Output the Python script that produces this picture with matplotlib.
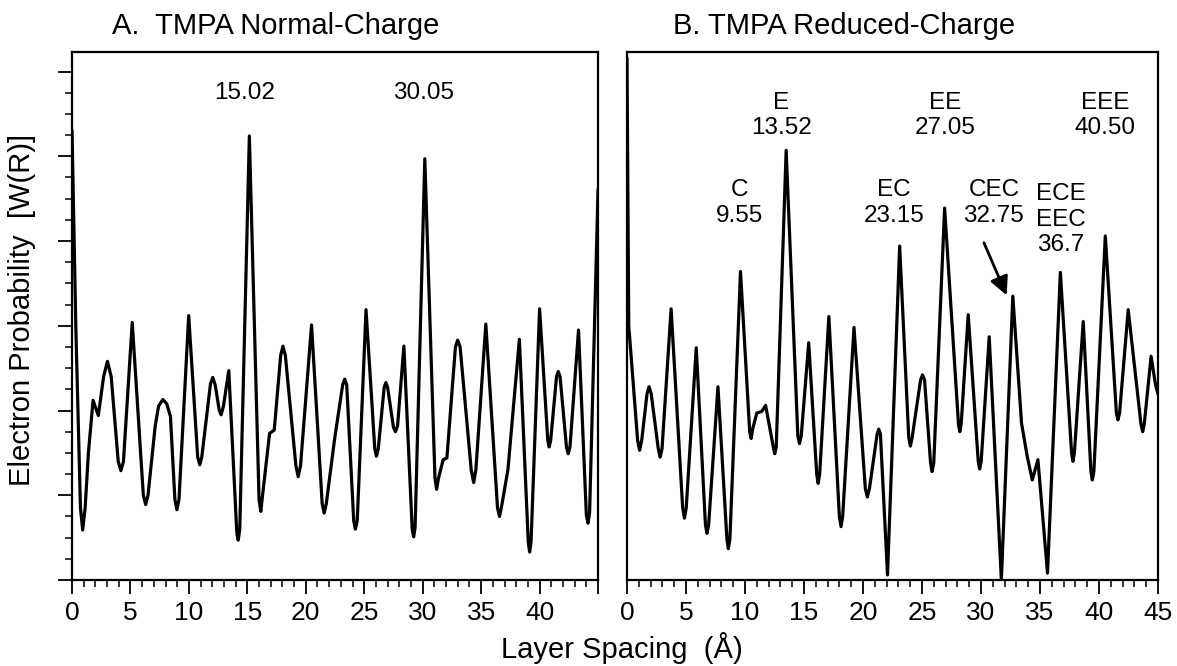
import numpy as np
import matplotlib.pyplot as plt
from matplotlib.ticker import MultipleLocator

plt.rcParams['font.family'] = ['Liberation Sans', 'DejaVu Sans']

# 数据：曲线点 (层间距 Å, W(R))
normal_x = [0.0, 0.33, 0.72, 0.91, 1.12, 1.4, 1.8, 2.25, 2.7, 3.03, 3.35, 3.95, 4.18, 4.4,
            5.15, 6.1, 6.3, 6.5, 7.11, 7.4, 7.77, 8.1, 8.42, 8.8, 8.97, 9.15,
            9.98, 10.75, 10.93, 11.1, 11.85, 12.04, 12.25, 12.6, 12.76, 12.95, 13.41,
            14.1, 14.22, 14.35, 15.17, 16.0, 16.15, 16.3, 16.9, 17.3, 17.85, 18.04, 18.25,
            19.15, 19.35, 19.55, 20.49, 21.4, 21.57, 21.75, 22.45, 23.15, 23.33, 23.5,
            24.1, 24.24, 24.4, 25.15, 25.9, 26.04, 26.2, 26.7, 26.85, 27.0,
            27.5, 27.67, 27.85, 28.39, 29.1, 29.23, 29.35, 30.18, 31.05, 31.19, 31.35,
            31.75, 32.07, 32.8, 32.99, 33.2, 34.15, 34.36, 34.55, 35.4, 36.4, 36.57, 36.75,
            37.29, 38.27, 39.03, 39.15, 39.27, 40.0, 40.7, 40.82, 40.95, 41.45, 41.6, 41.75,
            42.3, 42.45, 42.6, 43.33, 44.0, 44.14, 44.28, 45.0]
normal_y = [5.3, 2.95, 0.85, 0.59, 0.85, 1.5, 2.12, 1.94, 2.4, 2.58, 2.4, 1.4, 1.29, 1.4,
            3.04, 1.0, 0.89, 1.0, 1.81, 2.05, 2.13, 2.08, 1.93, 0.95, 0.83, 0.95,
            3.12, 1.45, 1.36, 1.45, 2.32, 2.39, 2.3, 2.0, 1.95, 2.05, 2.47,
            0.55, 0.47, 0.6, 5.24, 0.95, 0.81, 1.0, 1.73, 1.77, 2.65, 2.76, 2.65,
            1.35, 1.22, 1.35, 3.01, 0.9, 0.79, 0.9, 1.65, 2.3, 2.37, 2.3,
            0.7, 0.6, 0.7, 3.19, 1.55, 1.46, 1.55, 2.27, 2.33, 2.27,
            1.8, 1.75, 1.82, 2.76, 0.6, 0.51, 0.62, 4.97, 1.2, 1.07, 1.2,
            1.42, 1.44, 2.75, 2.83, 2.75, 1.3, 1.15, 1.3, 3.02, 0.85, 0.75, 0.87,
            1.3, 2.84, 0.45, 0.33, 0.45, 3.2, 1.65, 1.57, 1.65, 2.4, 2.46, 2.4,
            1.57, 1.49, 1.57, 2.95, 0.77, 0.67, 0.8, 4.6]

reduced_x = [0.0, 0.15, 0.9, 1.07, 1.25, 1.7, 1.87, 2.05, 2.65, 2.81, 2.97, 3.74,
             4.72, 4.87, 5.02, 5.87, 6.65, 6.78, 6.92, 7.71, 8.47, 8.59, 8.72, 9.62,
             10.4, 10.52, 10.65, 11.0, 11.43, 11.75, 12.4, 12.52, 12.65, 13.49,
             14.48, 14.62, 14.77, 15.4, 16.08, 16.2, 16.33, 17.11, 18.0, 18.14, 18.28,
             19.24, 20.2, 20.37, 20.55, 21.2, 21.34, 21.48, 22.08, 23.11,
             23.88, 24.02, 24.17, 24.88, 25.05, 25.22, 25.73, 25.86, 26.0, 26.92,
             28.1, 28.21, 28.33, 28.92, 29.77, 29.89, 30.02, 30.7, 31.73, 32.7,
             33.44, 33.92, 34.35, 34.83, 35.64, 36.73, 37.68, 37.8, 37.92, 38.67,
             39.32, 39.44, 39.57, 40.54, 41.48, 41.61, 41.75, 42.48,
             43.57, 43.71, 43.85, 44.42, 44.8, 45.0]
reduced_y = [6.15, 3.0, 1.65, 1.53, 1.65, 2.2, 2.28, 2.2, 1.55, 1.45, 1.55, 3.2,
             0.85, 0.73, 0.85, 2.74, 0.65, 0.55, 0.65, 2.28, 0.48, 0.37, 0.48, 3.64,
             1.75, 1.67, 1.78, 1.97, 1.99, 2.06, 1.57, 1.49, 1.57, 5.07,
             1.7, 1.61, 1.7, 2.8, 1.25, 1.14, 1.25, 3.11, 0.75, 0.63, 0.75,
             2.98, 1.08, 0.98, 1.08, 1.72, 1.78, 1.72, 0.06, 3.94,
             1.68, 1.58, 1.68, 2.36, 2.42, 2.36, 1.38, 1.28, 1.38, 4.39,
             1.83, 1.75, 1.85, 3.13, 1.4, 1.31, 1.4, 2.87, 0.0, 3.35,
             1.85, 1.46, 1.18, 1.42, 0.08, 3.63, 1.5, 1.4, 1.5, 3.05,
             1.28, 1.18, 1.28, 4.06, 1.97, 1.89, 1.97, 3.19,
             1.83, 1.75, 1.85, 2.64, 2.3, 2.2]

normal_labels = ['15.02', '30.05']
reduced_labels = ['C\n9.55', 'E\n13.52', 'EC\n23.15', 'EE\n27.05',
                  'CEC\n32.75', 'ECE\nEEC\n36.7', 'EEE\n40.50']

fig = plt.figure(figsize=(11.77, 6.66), dpi=100)
ax1 = fig.add_axes([0.0612, 0.1291, 0.4469, 0.7928])
ax2 = fig.add_axes([0.5327, 0.1291, 0.4511, 0.7928])

for ax in (ax1, ax2):
    ax.set_xlim(0, 45)
    ax.set_ylim(0, 6.23)
    for s in ax.spines.values():
        s.set_linewidth(1.6)
    ax.xaxis.set_major_locator(MultipleLocator(5))
    ax.xaxis.set_minor_locator(MultipleLocator(1))
    ax.tick_params(axis='x', which='major', direction='out', length=10, width=1.3,
                   labelsize=19, pad=5)
    ax.tick_params(axis='x', which='minor', direction='out', length=5, width=1.1)

ax1.plot(normal_x, normal_y, color='black', lw=2.3, solid_joinstyle='round')
ax2.plot(reduced_x, reduced_y, color='black', lw=2.3, solid_joinstyle='round')

ax1.set_xticks(range(0, 46, 5))
ax1.set_xticklabels([str(v) for v in range(0, 41, 5)] + [''])
ax1.yaxis.set_major_locator(MultipleLocator(1))
ax1.yaxis.set_minor_locator(MultipleLocator(0.25))
ax1.tick_params(axis='y', which='major', direction='out', length=10, width=1.3, labelleft=False)
ax1.tick_params(axis='y', which='minor', direction='out', length=5, width=1.1)
ax2.set_yticks([])

for txt, (x, y) in zip(normal_labels, [(14.8, 5.75), (30.1, 5.75)]):
    ax1.text(x, y, txt, ha='center', va='center', fontsize=17.5)

pos_b = [(9.5, 4.45), (13.1, 5.48), (22.6, 4.45), (27.0, 5.48),
         (31.1, 4.45), (36.8, 4.25), (40.5, 5.48)]
for txt, (x, y) in zip(reduced_labels, pos_b):
    ax2.text(x, y, txt, ha='center', va='center', fontsize=17.5, linespacing=1.2)

ax2.annotate('', xy=(32.18, 3.36), xytext=(30.25, 3.98),
             arrowprops=dict(arrowstyle='-|>', color='black', lw=2,
                             mutation_scale=28, shrinkA=0, shrinkB=0))

fig.text(0.0952, 0.949, 'A.  TMPA Normal-Charge', fontsize=21, va='baseline')
fig.text(0.5718, 0.949, 'B. TMPA Reduced-Charge', fontsize=21, va='baseline')
fig.text(0.0191, 0.5345, 'Electron Probability  [W(R)]', fontsize=21,
         rotation=90, ha='center', va='center')
fig.text(0.5285, 0.012, 'Layer Spacing  (Å)', fontsize=21, ha='center', va='baseline')

fig.savefig('out.png', dpi=100)
